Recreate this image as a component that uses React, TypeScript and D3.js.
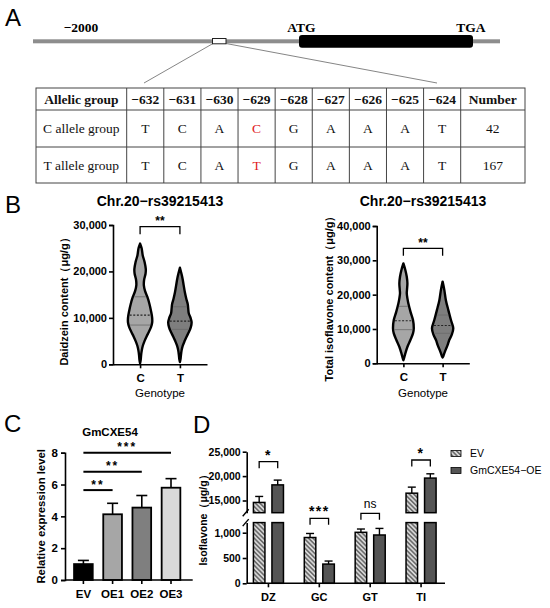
import React, { useEffect, useRef } from 'react';
import * as d3 from 'd3';

// ---- Panel A: haplotype table ----
const positions = ['−632', '−631', '−630', '−629', '−628', '−627', '−626', '−625', '−624'];
const alleleGroups = ['C allele group', 'T allele group'];
const alleleBases = [
  ['T', 'C', 'A', 'C', 'G', 'A', 'A', 'A', 'T'],
  ['T', 'C', 'A', 'T', 'G', 'A', 'A', 'A', 'T'],
];
const alleleCounts = [42, 167];
const snpPosition = '−629';

// ---- Panel B: violins (value, relative density) ----
const genotypes = ['C', 'T'];
const daidzeinTicks = [0, 10000, 20000, 30000];
const totalTicks = [0, 10000, 20000, 30000, 40000];
const daidzeinC: [number, number][] = [
  [26000, 0], [25000, 0.12], [23500, 0.2], [22000, 0.35], [20500, 0.44], [19500, 0.42],
  [18200, 0.31], [17000, 0.29], [15800, 0.38], [14500, 0.56], [13000, 0.72], [11500, 0.84],
  [10000, 0.93], [9000, 0.93], [8000, 0.84], [7000, 0.68], [6000, 0.5], [5000, 0.34],
  [4000, 0.21], [3000, 0.13], [2000, 0.08], [1000, 0.05], [200, 0],
];
const daidzeinT: [number, number][] = [
  [20800, 0], [19500, 0.12], [18500, 0.2], [17000, 0.29], [15500, 0.38], [14000, 0.5],
  [13000, 0.6], [12000, 0.64], [11000, 0.68], [10000, 0.82], [9000, 0.9], [8000, 0.84],
  [7000, 0.7], [6000, 0.52], [5000, 0.36], [4000, 0.22], [3000, 0.13], [2000, 0.08],
  [1000, 0.04], [500, 0],
];
const totalC: [number, number][] = [
  [29100, 0], [27200, 0.15], [25200, 0.26], [23300, 0.31], [21500, 0.28], [20400, 0.26],
  [18900, 0.31], [17500, 0.38], [15000, 0.55], [12600, 0.74], [10200, 0.8], [8700, 0.74],
  [6800, 0.54], [4900, 0.32], [2900, 0.15], [1500, 0.05], [900, 0],
];
const totalT: [number, number][] = [
  [23800, 0], [21400, 0.13], [18400, 0.25], [15500, 0.44], [12600, 0.64], [10200, 0.82],
  [8200, 0.69], [6800, 0.51], [5300, 0.38], [3900, 0.23], [2800, 0.12], [2100, 0.06], [1700, 0],
];
// [lower quartile, median, upper quartile]
const daidzeinQuartiles = [[8450, 10600, 14540], [7530, 9300, 12390]];
const totalQuartiles = [[9800, 12400, 16600], [8740, 11000, 14070]];

// ---- Panel C ----
const cxeLines = ['EV', 'OE1', 'OE2', 'OE3'];
const cxeMeans = [1.0, 4.13, 4.55, 5.8];
const cxeErrors = [0.23, 0.69, 0.76, 0.57];
const cxeTicks = [0, 2, 4, 6, 8];
const cxeSigTargets = ['OE1', 'OE2', 'OE3'];
const cxeSigLabels = ['**', '**', '***'];
const cxeSigLevels = [5.65, 6.8, 8.0];
const cxeColors = ['#000000', '#a6a6a6', '#7f7f7f', '#d9d9d9'];

// ---- Panel D ----
const compounds = ['DZ', 'GC', 'GT', 'TI'];
const dSeries = ['EV', 'GmCXE54−OE'];
const evMeans = [14600, 905, 1008, 16500];
const evErrors = [1230, 80, 65, 1240];
const oeMeans = [18200, 380, 955, 19590];
const oeErrors = [980, 60, 130, 880];
const dSigLabels = ['*', '***', 'ns', '*'];
const dSigLevels = [22950, 1285, 1383, 23300];
const dUpperTicks = [15000, 20000, 25000];
const dLowerTicks = [0, 500, 1000];

const SANS = '"Liberation Sans", Arial, sans-serif';
const SERIF = '"Liberation Serif", "Times New Roman", serif';

type Sel = d3.Selection<SVGSVGElement, unknown, null, undefined>;
type G = d3.Selection<SVGGElement, unknown, null, undefined>;

function styleAxis(g: G, size: number) {
  g.select('.domain').attr('stroke', '#000').attr('stroke-width', 1.6);
  g.selectAll('.tick line').attr('stroke', '#000').attr('stroke-width', 1.6);
  g.selectAll('.tick text')
    .attr('fill', '#000')
    .style('font-family', SANS)
    .style('font-weight', 'bold')
    .style('font-size', `${size}px`);
}

function panelLetter(svg: Sel, letter: string, x: number, y: number) {
  svg.append('text').attr('x', x).attr('y', y).text(letter)
    .style('font-family', SANS).style('font-size', '24px');
}

function drawPanelA(svg: Sel) {
  panelLetter(svg, 'A', 5, 26);
  const g = svg.append('g');
  const gene = (t: string, x: number) =>
    g.append('text').attr('x', x).attr('y', 32).attr('text-anchor', 'middle').text(t)
      .style('font-family', SERIF).style('font-weight', 'bold').style('font-size', '13.5px');
  gene('−2000', 81);
  gene('ATG', 301.5);
  gene('TGA', 471);
  g.append('rect').attr('x', 33).attr('y', 39.3).attr('width', 467).attr('height', 4).attr('fill', '#8d8d8d');
  g.append('rect').attr('x', 299).attr('y', 35).attr('width', 174).attr('height', 12.7).attr('rx', 3).attr('fill', '#000');
  g.append('line').attr('x1', 213).attr('y1', 43.5).attr('x2', 144).attr('y2', 83)
    .attr('stroke', '#777').attr('stroke-width', 0.9);
  g.append('line').attr('x1', 226).attr('y1', 43.5).attr('x2', 437).attr('y2', 83)
    .attr('stroke', '#777').attr('stroke-width', 0.9);
  g.append('rect').attr('x', 212.5).attr('y', 38.5).attr('width', 13.5).attr('height', 5.3)
    .attr('fill', '#fff').attr('stroke', '#222').attr('stroke-width', 1);

  // table
  const left = 36, firstEnd = 126.7, posEnd = 460.7, right = 525;
  const rowsY = [88, 110, 147, 183];
  const col = d3.scaleBand<string>().domain(positions).range([firstEnd, posEnd]);
  const t = svg.append('g');
  t.append('rect').attr('x', left).attr('y', rowsY[0]).attr('width', right - left)
    .attr('height', rowsY[3] - rowsY[0]).attr('fill', 'none').attr('stroke', '#444').attr('stroke-width', 1);
  [rowsY[1], rowsY[2]].forEach(y =>
    t.append('line').attr('x1', left).attr('x2', right).attr('y1', y).attr('y2', y)
      .attr('stroke', '#444').attr('stroke-width', 1));
  [firstEnd, ...positions.map(p => (col(p) as number) + col.bandwidth()).slice(0, -1), posEnd].forEach(x =>
    t.append('line').attr('x1', x).attr('x2', x).attr('y1', rowsY[0]).attr('y2', rowsY[3])
      .attr('stroke', '#444').attr('stroke-width', 1));

  const cell = (txt: string, x: number, y: number, bold: boolean, color = '#111') =>
    t.append('text').attr('x', x).attr('y', y).attr('text-anchor', 'middle').attr('dy', '0.35em')
      .attr('fill', color).text(txt)
      .style('font-family', SERIF).style('font-weight', bold ? 'bold' : 'normal').style('font-size', '13.5px');
  const hy = (rowsY[0] + rowsY[1]) / 2;
  cell('Allelic group', (left + firstEnd) / 2, hy, true);
  positions.forEach(p => cell(p, (col(p) as number) + col.bandwidth() / 2, hy, true));
  cell('Number', (posEnd + right) / 2, hy, true);
  alleleGroups.forEach((grp, i) => {
    const y = (rowsY[i + 1] + rowsY[i + 2]) / 2;
    cell(grp, (left + firstEnd) / 2, y, false);
    positions.forEach((p, j) =>
      cell(alleleBases[i][j], (col(p) as number) + col.bandwidth() / 2, y, false,
        p === snpPosition ? '#e0201c' : '#111'));
    cell(String(alleleCounts[i]), (posEnd + right) / 2, y, false);
  });
}

function widthAt(profile: [number, number][], v: number) {
  for (let i = 0; i < profile.length - 1; i++) {
    const [a, da] = profile[i];
    const [b, db] = profile[i + 1];
    if ((v <= a && v >= b)) {
      const t = (a - v) / (a - b);
      return da + (db - da) * t;
    }
  }
  return 0;
}

interface ViolinOpts {
  xRange: [number, number];
  yRange: [number, number];
  max: number;
  ticks: number[];
  profiles: [number, number][][];
  quartiles: number[][];
  ylabel: string;
  labelX: number;
  labelY: number;
  bracketY: number;
  starY: number;
}

function drawViolins(svg: Sel, o: ViolinOpts) {
  const x = d3.scalePoint<string>().domain(genotypes).range(o.xRange).padding(0.68);
  const y = d3.scaleLinear().domain([0, o.max]).range(o.yRange);
  const w = d3.scaleLinear().domain([0, 1]).range([0, 13]);
  const cx = (o.xRange[0] + o.xRange[1]) / 2;
  const g = svg.append('g');

  g.append('text').attr('x', cx).attr('y', 206).attr('text-anchor', 'middle').text('Chr.20−rs39215413')
    .style('font-family', SANS).style('font-weight', 'bold').style('font-size', '14px');

  const fills = ['#a6a6a6', '#7e7e7e'];
  genotypes.forEach((gt, i) => {
    const c = x(gt) as number;
    const area = d3.area<[number, number]>()
      .y(d => y(d[0]))
      .x0(d => c - w(d[1]))
      .x1(d => c + w(d[1]))
      .curve(d3.curveCatmullRom.alpha(0.5));
    g.append('path').attr('d', area(o.profiles[i]) as string)
      .attr('fill', fills[i]).attr('stroke', '#000').attr('stroke-width', 2.4).attr('stroke-linejoin', 'round');
    o.quartiles[i].forEach((q, k) => {
      const hw = Math.max(0, w(widthAt(o.profiles[i], q)) - 1.2);
      g.append('line').attr('x1', c - hw).attr('x2', c + hw).attr('y1', y(q)).attr('y2', y(q))
        .attr('stroke', k === 1 ? '#222' : '#6a6a6a')
        .attr('stroke-width', k === 1 ? 1.1 : 0.8)
        .attr('stroke-dasharray', k === 1 ? '2,1.6' : null);
    });
  });

  const yAxis = g.append('g').attr('transform', `translate(${o.xRange[0]},0)`)
    .call(d3.axisLeft(y).tickValues(o.ticks).tickFormat(d3.format(',')).tickSize(4).tickPadding(2));
  styleAxis(yAxis, 11);
  const xAxis = g.append('g').attr('transform', `translate(0,${o.yRange[0]})`)
    .call(d3.axisBottom(x).tickSize(4).tickSizeOuter(0).tickPadding(6));
  styleAxis(xAxis, 11.5);

  g.append('text').attr('x', cx).attr('y', 397).attr('text-anchor', 'middle').text('Genotype')
    .style('font-family', SANS).style('font-size', '11.5px');
  g.append('text').attr('transform', `translate(${o.labelX},${o.labelY}) rotate(-90)`)
    .attr('text-anchor', 'middle').attr('dy', '0.35em').text(o.ylabel)
    .style('font-family', SANS).style('font-weight', 'bold').style('font-size', '11px');

  const a = x('C') as number, b = x('T') as number;
  g.append('path').attr('d', `M${a},${o.bracketY + 7.5}V${o.bracketY}H${b}V${o.bracketY + 7.5}`)
    .attr('fill', 'none').attr('stroke', '#000').attr('stroke-width', 1.3);
  g.append('text').attr('x', (a + b) / 2).attr('y', o.starY).attr('text-anchor', 'middle').text('**')
    .style('font-family', SANS).style('font-weight', 'bold').style('font-size', '12px');
}

function drawPanelC(svg: Sel) {
  panelLetter(svg, 'C', 4, 432);
  const g = svg.append('g');
  const x = d3.scaleBand<string>().domain(cxeLines).range([65, 189.4]).paddingInner(0.36).paddingOuter(0.31);
  const y = d3.scaleLinear().domain([0, 8]).range([580, 452.7]);

  g.append('text').attr('x', 110).attr('y', 436).attr('text-anchor', 'middle').text('GmCXE54')
    .style('font-family', SANS).style('font-weight', 'bold').style('font-size', '11.5px');

  cxeLines.forEach((ln, i) => {
    const bx = x(ln) as number;
    const c = bx + x.bandwidth() / 2;
    const top = y(cxeMeans[i] + cxeErrors[i]);
    g.append('line').attr('x1', c).attr('x2', c).attr('y1', y(cxeMeans[i])).attr('y2', top)
      .attr('stroke', '#000').attr('stroke-width', 1.6);
    g.append('line').attr('x1', c - 5.5).attr('x2', c + 5.5).attr('y1', top).attr('y2', top)
      .attr('stroke', '#000').attr('stroke-width', 1.6);
    g.append('rect').attr('x', bx).attr('y', y(cxeMeans[i])).attr('width', x.bandwidth())
      .attr('height', y(0) - y(cxeMeans[i])).attr('fill', cxeColors[i])
      .attr('stroke', '#000').attr('stroke-width', 1.8);
  });

  const xa = g.append('g').attr('transform', `translate(0,${y(0)})`)
    .call(d3.axisBottom(x).tickSize(4).tickSizeOuter(0).tickPadding(6));
  xa.select('.domain').attr('d', `M65,0H192.7`);
  styleAxis(xa, 11.5);
  const ya = g.append('g').attr('transform', 'translate(65,0)')
    .call(d3.axisLeft(y).tickValues(cxeTicks).tickSize(4).tickPadding(3));
  styleAxis(ya, 11.5);

  g.append('text').attr('transform', `translate(41.5,${(y(0) + y(8)) / 2}) rotate(-90)`)
    .attr('text-anchor', 'middle').attr('dy', '0.35em').text('Relative expression level')
    .style('font-family', SANS).style('font-weight', 'bold').style('font-size', '11.3px');

  const evC = (x('EV') as number) + x.bandwidth() / 2;
  cxeSigTargets.forEach((tg, i) => {
    const tc = (x(tg) as number) + x.bandwidth() / 2;
    const ly = y(cxeSigLevels[i]);
    g.append('line').attr('x1', evC).attr('x2', tc).attr('y1', ly).attr('y2', ly)
      .attr('stroke', '#000').attr('stroke-width', 2);
    g.append('text').attr('x', (evC + tc) / 2).attr('y', ly - 1.5).attr('text-anchor', 'middle')
      .text(cxeSigLabels[i])
      .style('font-family', SANS).style('font-weight', 'bold').style('font-size', '12px')
      .style('letter-spacing', '2px');
  });
}

function drawPanelD(svg: Sel) {
  panelLetter(svg, 'D', 193, 433);
  const defs = svg.append('defs');
  const pat = defs.append('pattern').attr('id', 'hatch').attr('patternUnits', 'userSpaceOnUse')
    .attr('width', 3.2).attr('height', 3.2).attr('patternTransform', 'rotate(-45)');
  pat.append('rect').attr('width', 3.2).attr('height', 3.2).attr('fill', '#d6d6d6');
  pat.append('line').attr('x1', 0.8).attr('y1', 0).attr('x2', 0.8).attr('y2', 3.2)
    .attr('stroke', '#4a4a4a').attr('stroke-width', 1.2);

  const g = svg.append('g');
  const axisX = 246.7;
  const x = d3.scaleBand<string>().domain(compounds).range([243, 446.5]);
  const xs = d3.scaleBand<string>().domain(dSeries).range([0, x.bandwidth()])
    .paddingInner(0.378).paddingOuter(0.562);
  const yU = d3.scaleLinear().domain([12500, 25000]).range([512.7, 451.7]);
  const yL = d3.scaleLinear().domain([0, 1200]).range([583.3, 522.6]);
  const fills = ['url(#hatch)', '#555555'];
  const means = [evMeans, oeMeans];
  const errs = [evErrors, oeErrors];

  compounds.forEach((cp, i) => {
    dSeries.forEach((s, k) => {
      const bx = (x(cp) as number) + (xs(s) as number);
      const bw = xs.bandwidth();
      const v = means[k][i];
      const e = errs[k][i];
      const c = bx + bw / 2;
      const seg = v > 1200 ? yU : yL;
      const top = seg(v + e);
      g.append('line').attr('x1', c).attr('x2', c).attr('y1', seg(v)).attr('y2', top)
        .attr('stroke', '#000').attr('stroke-width', 1.4);
      g.append('line').attr('x1', c - 4).attr('x2', c + 4).attr('y1', top).attr('y2', top)
        .attr('stroke', '#000').attr('stroke-width', 1.4);
      const lowTop = yL(Math.min(v, 1200));
      g.append('rect').attr('x', bx).attr('y', lowTop).attr('width', bw).attr('height', yL(0) - lowTop)
        .attr('fill', fills[k]).attr('stroke', '#000').attr('stroke-width', 1.5);
      if (v > 1200) {
        g.append('rect').attr('x', bx).attr('y', yU(v)).attr('width', bw).attr('height', yU(12500) - yU(v))
          .attr('fill', fills[k]).attr('stroke', '#000').attr('stroke-width', 1.5);
      }
    });
    // significance bracket
    const a = (x(cp) as number) + (xs('EV') as number) + xs.bandwidth() / 2;
    const b = (x(cp) as number) + (xs('GmCXE54−OE') as number) + xs.bandwidth() / 2;
    const broken = Math.max(means[0][i], means[1][i]) > 1200;
    const by = (broken ? yU : yL)(dSigLevels[i]);
    g.append('path').attr('d', `M${a},${by + 6.5}V${by}H${b}V${by + 6.5}`)
      .attr('fill', 'none').attr('stroke', '#000').attr('stroke-width', 1.3);
    const ns = dSigLabels[i] === 'ns';
    g.append('text').attr('x', (a + b) / 2).attr('y', ns ? by - 5 : by - 2).attr('text-anchor', 'middle')
      .text(dSigLabels[i])
      .style('font-family', SANS).style('font-weight', ns ? 'normal' : 'bold')
      .style('font-size', ns ? '12px' : '14px').style('letter-spacing', ns ? '0px' : '1.5px');
  });

  const xa = g.append('g').attr('transform', `translate(0,${yL(0)})`)
    .call(d3.axisBottom(x).tickSize(4).tickSizeOuter(0).tickPadding(6));
  xa.select('.domain').attr('d', `M${axisX},0H445`);
  styleAxis(xa, 11);
  const yaU = g.append('g').attr('transform', `translate(${axisX},0)`)
    .call(d3.axisLeft(yU).tickValues(dUpperTicks).tickFormat(d3.format(',')).tickSize(4).tickSizeOuter(0).tickPadding(2));
  styleAxis(yaU, 10.5);
  const yaL = g.append('g').attr('transform', `translate(${axisX},0)`)
    .call(d3.axisLeft(yL).tickValues(dLowerTicks).tickSize(4).tickSizeOuter(0).tickPadding(2));
  styleAxis(yaL, 10.5);
  // break marks
  [yU(12500), yL(1200)].forEach(by =>
    g.append('line').attr('x1', axisX - 4).attr('y1', by + 3.5).attr('x2', axisX + 2).attr('y2', by - 3.5)
      .attr('stroke', '#000').attr('stroke-width', 1.4));

  g.append('text').attr('transform', `translate(203.5,${(yU(25000) + yL(0)) / 2}) rotate(-90)`)
    .attr('text-anchor', 'middle').attr('dy', '0.35em').text('Isoflavone（μg/g）')
    .style('font-family', SANS).style('font-weight', 'bold').style('font-size', '10.5px');

  // legend
  dSeries.forEach((s, k) => {
    const ly = k === 0 ? 453.5 : 470.5;
    g.append('rect').attr('x', 451).attr('y', ly - 3).attr('width', 10).attr('height', 6)
      .attr('fill', fills[k]).attr('stroke', '#000').attr('stroke-width', 0.8);
    g.append('text').attr('x', 470).attr('y', ly).attr('dy', '0.35em').text(s)
      .style('font-family', SANS).style('font-size', '10.5px');
  });
}

export default function App() {
  const svgRef = useRef<SVGSVGElement | null>(null);

  useEffect(() => {
    if (!svgRef.current) return;
    const svg = d3.select(svgRef.current);
    svg.selectAll('*').remove();
    svg.append('rect').attr('width', 550).attr('height', 608).attr('fill', '#fff');

    drawPanelA(svg);
    panelLetter(svg, 'B', 5, 213);
    drawViolins(svg, {
      xRange: [113, 207], yRange: [364.3, 225], max: 30000, ticks: daidzeinTicks,
      profiles: [daidzeinC, daidzeinT], quartiles: daidzeinQuartiles,
      ylabel: 'Daidzein content（μg/g）', labelX: 64, labelY: 299, bracketY: 226.7, starY: 225,
    });
    drawViolins(svg, {
      xRange: [376.7, 469.3], yRange: [363.3, 226], max: 40000, ticks: totalTicks,
      profiles: [totalC, totalT], quartiles: totalQuartiles,
      ylabel: 'Total isoflavone content（μg/g）', labelX: 329.5, labelY: 296, bracketY: 248.3, starY: 247,
    });
    drawPanelC(svg);
    drawPanelD(svg);
  }, []);

  return (
    <svg ref={svgRef} width={550} height={608}
      style={{ position: 'absolute', left: 0, top: 0, display: 'block' }} />
  );
}
